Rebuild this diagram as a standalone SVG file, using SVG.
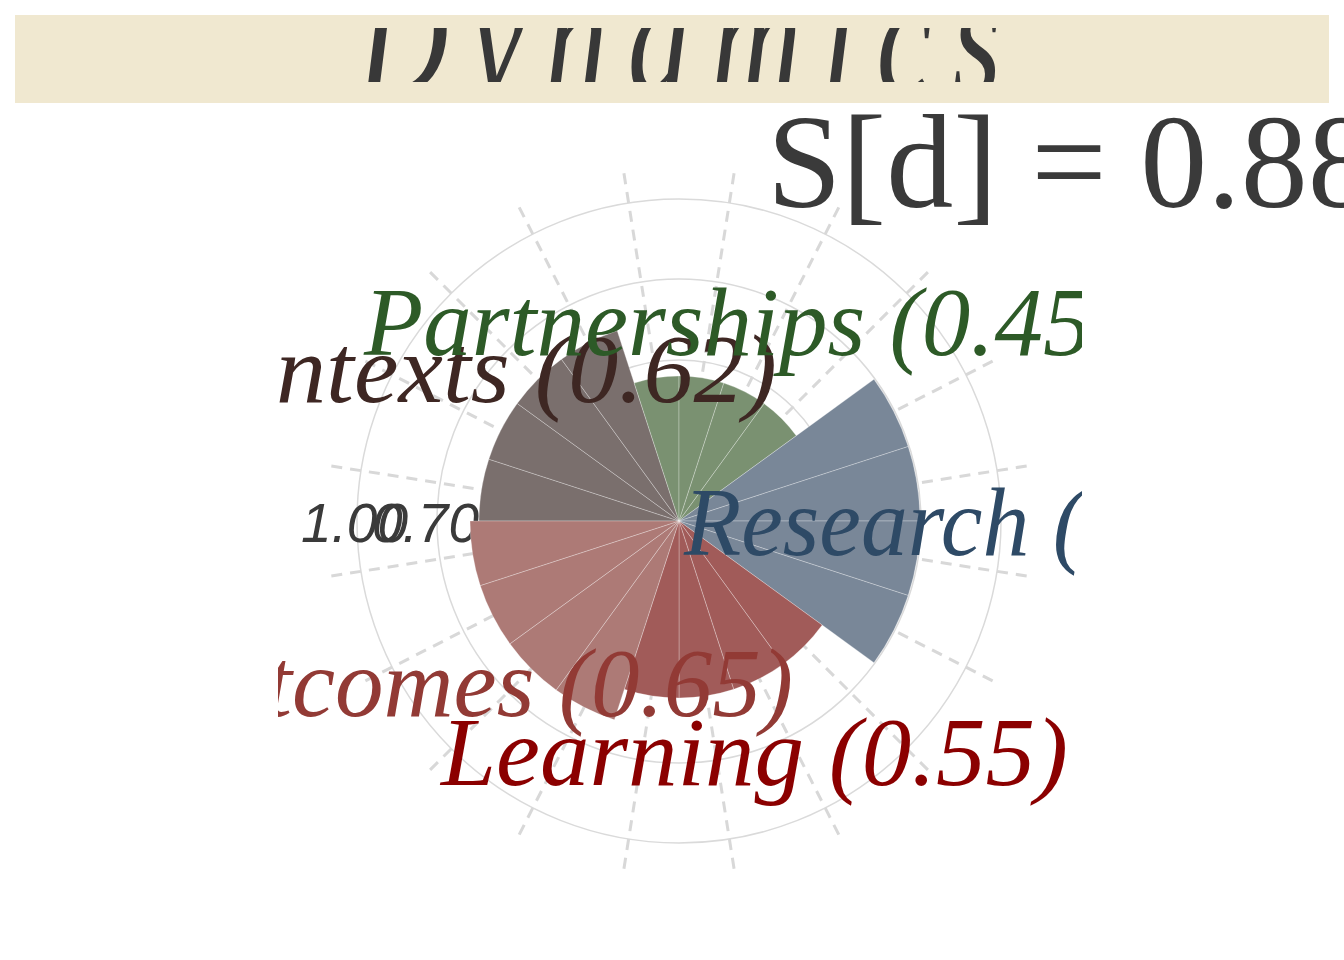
<svg xmlns="http://www.w3.org/2000/svg" width="1344" height="960" viewBox="0 0 1344 960">
<defs>
<style>
.grid{fill:none;stroke:#dadada;stroke-width:1.5}
.spoke{stroke:#d8d8d8;stroke-width:3;stroke-dasharray:11 8}
.tick{font-family:"Liberation Sans",Arial,sans-serif;font-style:italic;font-size:55px;fill:#3a3a3a}
.seg{stroke:#ffffff;stroke-opacity:0.35;stroke-width:0.8}
.lab{font-family:"Liberation Serif","Times New Roman",serif;font-style:italic;font-size:97px}
</style>
<clipPath id="titleClip"><rect x="15" y="28" width="1314" height="54"/></clipPath>
<clipPath id="plotClip"><rect x="278" y="0" width="804" height="960"/></clipPath>
</defs>
<rect x="0" y="0" width="1344" height="960" fill="#ffffff"/>

<g id="header">
<rect x="15" y="15" width="1314" height="88" fill="#f0e8d0"/>
<g clip-path="url(#titleClip)">
<text transform="scale(0.72,1)" x="497" y="94" font-family="Liberation Serif, serif" font-style="italic" font-size="175" textLength="894" lengthAdjust="spacing" fill="#383838">Dynamics</text>
</g>
</g>

<g id="score">
<text x="767" y="207" font-family="Liberation Serif, serif" font-size="134" fill="#3a3a3a">S[d] = 0.88</text>
</g>

<g id="polar-grid">
<circle class="grid" cx="679" cy="521" r="161"/>
<circle class="grid" cx="679" cy="521" r="242"/>
<circle class="grid" cx="679" cy="521" r="322"/>
<line class="spoke" x1="734.07" y1="173.33" x2="679" y2="521"/>
<line class="spoke" x1="838.80" y1="207.37" x2="679" y2="521"/>
<line class="spoke" x1="927.90" y1="272.10" x2="679" y2="521"/>
<line class="spoke" x1="992.63" y1="361.20" x2="679" y2="521"/>
<line class="spoke" x1="1026.67" y1="465.93" x2="679" y2="521"/>
<line class="spoke" x1="1026.67" y1="576.07" x2="679" y2="521"/>
<line class="spoke" x1="992.63" y1="680.80" x2="679" y2="521"/>
<line class="spoke" x1="927.90" y1="769.90" x2="679" y2="521"/>
<line class="spoke" x1="838.80" y1="834.63" x2="679" y2="521"/>
<line class="spoke" x1="734.07" y1="868.67" x2="679" y2="521"/>
<line class="spoke" x1="623.93" y1="868.67" x2="679" y2="521"/>
<line class="spoke" x1="519.20" y1="834.63" x2="679" y2="521"/>
<line class="spoke" x1="430.10" y1="769.90" x2="679" y2="521"/>
<line class="spoke" x1="365.37" y1="680.80" x2="679" y2="521"/>
<line class="spoke" x1="331.33" y1="576.07" x2="679" y2="521"/>
<line class="spoke" x1="331.33" y1="465.93" x2="679" y2="521"/>
<line class="spoke" x1="365.37" y1="361.20" x2="679" y2="521"/>
<line class="spoke" x1="430.10" y1="272.10" x2="679" y2="521"/>
<line class="spoke" x1="519.20" y1="207.37" x2="679" y2="521"/>
<line class="spoke" x1="623.93" y1="173.33" x2="679" y2="521"/>
<text class="tick" x="301" y="542">1.00</text>
<text class="tick" x="372" y="542">0.70</text>
</g>

<g id="wedge-contexts" fill="#7a6f6d" class="seg">
<path d="M679,521 L479,521 A200,200 0 0 1 488.79,459.20 Z"/>
<path d="M679,521 L488.79,459.20 A200,200 0 0 1 517.20,403.44 Z"/>
<path d="M679,521 L517.20,403.44 A200,200 0 0 1 561.44,359.20 Z"/>
<path d="M679,521 L561.44,359.20 A200,200 0 0 1 617.20,330.79 Z"/>
</g>
<g id="wedge-partnerships" fill="#7a9171" class="seg">
<path d="M679,521 L634.19,383.10 A145,145 0 0 1 679,376 Z"/>
<path d="M679,521 L679,376 A145,145 0 0 1 723.81,383.10 Z"/>
<path d="M679,521 L723.81,383.10 A145,145 0 0 1 764.23,403.69 Z"/>
<path d="M679,521 L764.23,403.69 A145,145 0 0 1 796.31,435.77 Z"/>
</g>
<g id="wedge-research" fill="#798798" class="seg">
<path d="M679,521 L873.97,379.34 A241,241 0 0 1 908.20,446.53 Z"/>
<path d="M679,521 L908.20,446.53 A241,241 0 0 1 920,521 Z"/>
<path d="M679,521 L920,521 A241,241 0 0 1 908.20,595.47 Z"/>
<path d="M679,521 L908.20,595.47 A241,241 0 0 1 873.97,662.66 Z"/>
</g>
<g id="wedge-learning" fill="#a15b59" class="seg">
<path d="M679,521 L822.20,625.04 A177,177 0 0 1 783.04,664.20 Z"/>
<path d="M679,521 L783.04,664.20 A177,177 0 0 1 733.70,689.34 Z"/>
<path d="M679,521 L733.70,689.34 A177,177 0 0 1 679,698 Z"/>
<path d="M679,521 L679,698 A177,177 0 0 1 624.30,689.34 Z"/>
</g>
<g id="wedge-outcomes" fill="#ad7a76" class="seg">
<path d="M679,521 L614.42,719.77 A209,209 0 0 1 556.15,690.08 Z"/>
<path d="M679,521 L556.15,690.08 A209,209 0 0 1 509.92,643.85 Z"/>
<path d="M679,521 L509.92,643.85 A209,209 0 0 1 480.23,585.58 Z"/>
<path d="M679,521 L480.23,585.58 A209,209 0 0 1 470,521 Z"/>
</g>

<g id="labels" clip-path="url(#plotClip)">
<text id="label-contexts" class="lab" x="276" y="402" textLength="501" lengthAdjust="spacingAndGlyphs" fill="#3e2723">ntexts (0.62)</text>
<text id="label-partnerships" class="lab" x="364" y="355" fill="#2d5a27">Partnerships (0.45</text>
<text id="label-research" class="lab" x="684" y="555" textLength="400" lengthAdjust="spacingAndGlyphs" fill="#2e4a66">Research (</text>
<text id="label-outcomes" class="lab" x="793" y="716" text-anchor="end" fill="#923a35">tcomes (0.65)</text>
<text id="label-learning" class="lab" x="441" y="785" textLength="627" lengthAdjust="spacingAndGlyphs" fill="#8b0000">Learning (0.55)</text>
</g>
</svg>
